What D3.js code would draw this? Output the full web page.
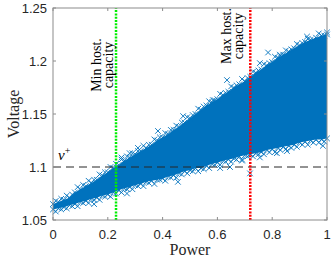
<!DOCTYPE html>
<html>
<head>
<meta charset="utf-8">
<script src="https://cdn.jsdelivr.net/npm/d3@7"></script>
<style>
  body { margin: 0; background: #fff; }
  svg { display: block; }
</style>
</head>
<body>
<div id="chart"></div>
<script>
// tick values
const xTicks = [0, 0.2, 0.4, 0.6, 0.8, 1];
const yTicks = [1.05, 1.1, 1.15, 1.2, 1.25];

// reference lines
const vPlus = 1.1;
const minHost = 0.23;
const maxHost = 0.72;

// dense core of the scatter: upper and lower edge
const edgeX = [0, 0.02, 0.04, 0.06, 0.08, 0.1, 0.12, 0.14, 0.16, 0.18, 0.2, 0.22, 0.24, 0.26, 0.28, 0.3,
  0.32, 0.34, 0.36, 0.38, 0.4, 0.42, 0.44, 0.46, 0.48, 0.5, 0.52, 0.54, 0.56, 0.58, 0.6, 0.62, 0.64,
  0.66, 0.68, 0.7, 0.72, 0.74, 0.76, 0.78, 0.8, 0.82, 0.84, 0.86, 0.88, 0.9, 0.92, 0.94, 0.96, 0.98, 1];
const upperV = [1.065, 1.067, 1.069, 1.071, 1.076, 1.079, 1.082, 1.085, 1.088, 1.092, 1.095, 1.099, 1.102,
  1.106, 1.109, 1.112, 1.115, 1.118, 1.121, 1.125, 1.128, 1.131, 1.135, 1.138, 1.142, 1.146, 1.150, 1.154,
  1.158, 1.161, 1.164, 1.168, 1.171, 1.175, 1.178, 1.181, 1.185, 1.189, 1.192, 1.196, 1.199, 1.203, 1.206,
  1.209, 1.212, 1.215, 1.218, 1.220, 1.222, 1.224, 1.225];
const lowerV = [1.060, 1.061, 1.062, 1.064, 1.065, 1.067, 1.068, 1.070, 1.071, 1.073, 1.074, 1.076, 1.078,
  1.080, 1.081, 1.083, 1.084, 1.086, 1.087, 1.088, 1.089, 1.091, 1.092, 1.094, 1.096, 1.097, 1.099, 1.099,
  1.101, 1.103, 1.104, 1.106, 1.107, 1.108, 1.110, 1.111, 1.112, 1.113, 1.114, 1.116, 1.117, 1.118, 1.119,
  1.120, 1.121, 1.123, 1.124, 1.125, 1.126, 1.126, 1.127];

// samples along the fuzzy fringe of the cloud
const fringeX = [0.01, 0.03, 0.05, 0.07, 0.09, 0.11, 0.13, 0.15, 0.17, 0.19, 0.21, 0.23, 0.25, 0.27, 0.29,
  0.31, 0.33, 0.35, 0.37, 0.39, 0.41, 0.43, 0.45, 0.47, 0.49, 0.51, 0.53, 0.55, 0.57, 0.59, 0.61, 0.63,
  0.65, 0.67, 0.69, 0.71, 0.73, 0.75, 0.77, 0.79, 0.81, 0.83, 0.85, 0.87, 0.89, 0.91, 0.93, 0.95, 0.97, 0.99];
const fringeHi = [1.068, 1.070, 1.073, 1.074, 1.081, 1.083, 1.087, 1.088, 1.093, 1.095, 1.100, 1.103, 1.107,
  1.110, 1.113, 1.115, 1.120, 1.121, 1.126, 1.128, 1.132, 1.135, 1.139, 1.142, 1.147, 1.149, 1.155, 1.157,
  1.162, 1.163, 1.169, 1.170, 1.176, 1.177, 1.183, 1.184, 1.190, 1.191, 1.197, 1.198, 1.204, 1.205, 1.210,
  1.211, 1.216, 1.217, 1.221, 1.220, 1.226, 1.224];
const fringeLo = [1.058, 1.060, 1.061, 1.063, 1.063, 1.066, 1.066, 1.069, 1.069, 1.072, 1.072, 1.075, 1.076,
  1.079, 1.079, 1.082, 1.082, 1.085, 1.084, 1.088, 1.087, 1.090, 1.090, 1.093, 1.094, 1.096, 1.096, 1.098,
  1.099, 1.102, 1.102, 1.105, 1.105, 1.107, 1.107, 1.110, 1.110, 1.112, 1.112, 1.114, 1.114, 1.116, 1.117,
  1.118, 1.119, 1.121, 1.121, 1.123, 1.123, 1.124];

// scattered samples outside the core
const outliers = [
  [0.25, 1.109], [0.28, 1.113], [0.31, 1.118], [0.383, 1.134], [0.475, 1.148],
  [0.584, 1.163], [0.635, 1.182], [0.755, 1.198], [0.785, 1.208], [0.828, 1.206], [0.927, 1.223],
  [1.0, 1.227], [0.456, 1.086], [0.51, 1.099], [0.61, 1.099], [0.646, 1.100], [0.69, 1.106],
  [0.719, 1.094], [0.755, 1.109], [0.817, 1.113], [0.854, 1.115], [0.985, 1.120], [0.15, 1.065],
  [0.27, 1.075]
];

const W = 333, H = 261;
const margin = {top: 8, right: 6, bottom: 41, left: 53};

const svg = d3.select("#chart").append("svg")
  .attr("width", W)
  .attr("height", H);

const x = d3.scaleLinear().domain([0, 1]).range([margin.left, W - margin.right]);
const y = d3.scaleLinear().domain([1.05, 1.25]).range([H - margin.bottom, margin.top]);

const blue = "#0072BD";
const axisColor = "#8c8c8c";
const textColor = "#262626";

// core area
const core = edgeX.map((d, i) => ({x: d, lo: lowerV[i], hi: upperV[i]}));
svg.append("path")
  .datum(core)
  .attr("fill", blue)
  .attr("d", d3.area()
    .x(d => x(d.x))
    .y0(d => y(d.lo))
    .y1(d => y(d.hi)));

// x markers on the edges, fringe and outliers
const pts = [];
edgeX.forEach((d, i) => {
  pts.push([d, upperV[i]]);
  pts.push([d, lowerV[i]]);
});
fringeX.forEach((d, i) => {
  pts.push([d, fringeHi[i]]);
  pts.push([d, fringeLo[i]]);
});
outliers.forEach(d => pts.push(d));

const s = 2.8;
svg.append("g")
  .selectAll("path")
  .data(pts)
  .join("path")
    .attr("d", d => {
      const px = x(d[0]), py = y(d[1]);
      return `M${px - s},${py - s}L${px + s},${py + s}M${px - s},${py + s}L${px + s},${py - s}`;
    })
    .attr("stroke", blue)
    .attr("stroke-width", 0.9)
    .attr("fill", "none");

// v+ dashed line
svg.append("line")
  .attr("x1", x(0)).attr("x2", x(1))
  .attr("y1", y(vPlus)).attr("y2", y(vPlus))
  .attr("stroke", "#262626")
  .attr("stroke-width", 1)
  .attr("stroke-dasharray", "8,5");

// hosting capacity lines
svg.append("line")
  .attr("x1", x(minHost)).attr("x2", x(minHost))
  .attr("y1", y(1.05)).attr("y2", y(1.25))
  .attr("stroke", "#00ee00")
  .attr("stroke-width", 2.5)
  .attr("stroke-dasharray", "2,1.3");

svg.append("line")
  .attr("x1", x(maxHost)).attr("x2", x(maxHost))
  .attr("y1", y(1.05)).attr("y2", y(1.25))
  .attr("stroke", "#ff0000")
  .attr("stroke-width", 2.5)
  .attr("stroke-dasharray", "2,1.3");

// box and ticks
const x0 = x(0), x1 = x(1), y0 = y(1.05), y1 = y(1.25);
svg.append("rect")
  .attr("x", x0).attr("y", y1)
  .attr("width", x1 - x0).attr("height", y0 - y1)
  .attr("fill", "none")
  .attr("stroke", axisColor)
  .attr("stroke-width", 1);

const tl = 3;
const tickG = svg.append("g").attr("stroke", axisColor).attr("stroke-width", 1);
xTicks.forEach(t => {
  tickG.append("line").attr("x1", x(t)).attr("x2", x(t)).attr("y1", y0).attr("y2", y0 - tl);
  tickG.append("line").attr("x1", x(t)).attr("x2", x(t)).attr("y1", y1).attr("y2", y1 + tl);
});
yTicks.forEach(t => {
  tickG.append("line").attr("x1", x0).attr("x2", x0 + tl).attr("y1", y(t)).attr("y2", y(t));
  tickG.append("line").attr("x1", x1).attr("x2", x1 - tl).attr("y1", y(t)).attr("y2", y(t));
});

// tick labels
svg.append("g")
  .selectAll("text")
  .data(xTicks)
  .join("text")
    .attr("x", d => x(d))
    .attr("y", y0 + 19)
    .attr("text-anchor", "middle")
    .attr("font-family", "Liberation Sans, Arial, sans-serif")
    .attr("font-size", 13)
    .attr("fill", textColor)
    .text(d => d3.format("")(d));

svg.append("g")
  .selectAll("text")
  .data(yTicks)
  .join("text")
    .attr("x", x0 - 6)
    .attr("y", d => y(d))
    .attr("dy", "0.35em")
    .attr("text-anchor", "end")
    .attr("font-family", "Liberation Sans, Arial, sans-serif")
    .attr("font-size", 13)
    .attr("fill", textColor)
    .text(d => d);

// axis titles
const serif = "Liberation Serif, Times New Roman, serif";
svg.append("text")
  .attr("x", (x0 + x1) / 2)
  .attr("y", H - 6)
  .attr("text-anchor", "middle")
  .attr("font-family", serif)
  .attr("font-size", 16)
  .attr("fill", textColor)
  .text("Power");

svg.append("text")
  .attr("transform", `translate(19,${(y0 + y1) / 2}) rotate(-90)`)
  .attr("text-anchor", "middle")
  .attr("font-family", serif)
  .attr("font-size", 16)
  .attr("fill", textColor)
  .text("Voltage");

// annotations
function vlabel(px, py, txt) {
  svg.append("text")
    .attr("transform", `translate(${px},${py}) rotate(-90)`)
    .attr("text-anchor", "middle")
    .attr("dy", "0.35em")
    .attr("font-family", serif)
    .attr("font-size", 14)
    .attr("fill", "#000")
    .text(txt);
}
vlabel(x(minHost) - 20, 65, "Min host.");
vlabel(x(minHost) - 8, 65, "capacity");
vlabel(x(maxHost) - 24, 36, "Max host.");
vlabel(x(maxHost) - 12, 36, "capacity");

// v+ label
const vt = svg.append("text")
  .attr("x", x0 + 5)
  .attr("y", y(vPlus) - 7)
  .attr("font-family", serif)
  .attr("font-size", 15)
  .attr("fill", "#000");
vt.append("tspan").attr("font-style", "italic").text("v");
vt.append("tspan").attr("dy", -6).attr("font-size", 10).text("+");
</script>
</body>
</html>
